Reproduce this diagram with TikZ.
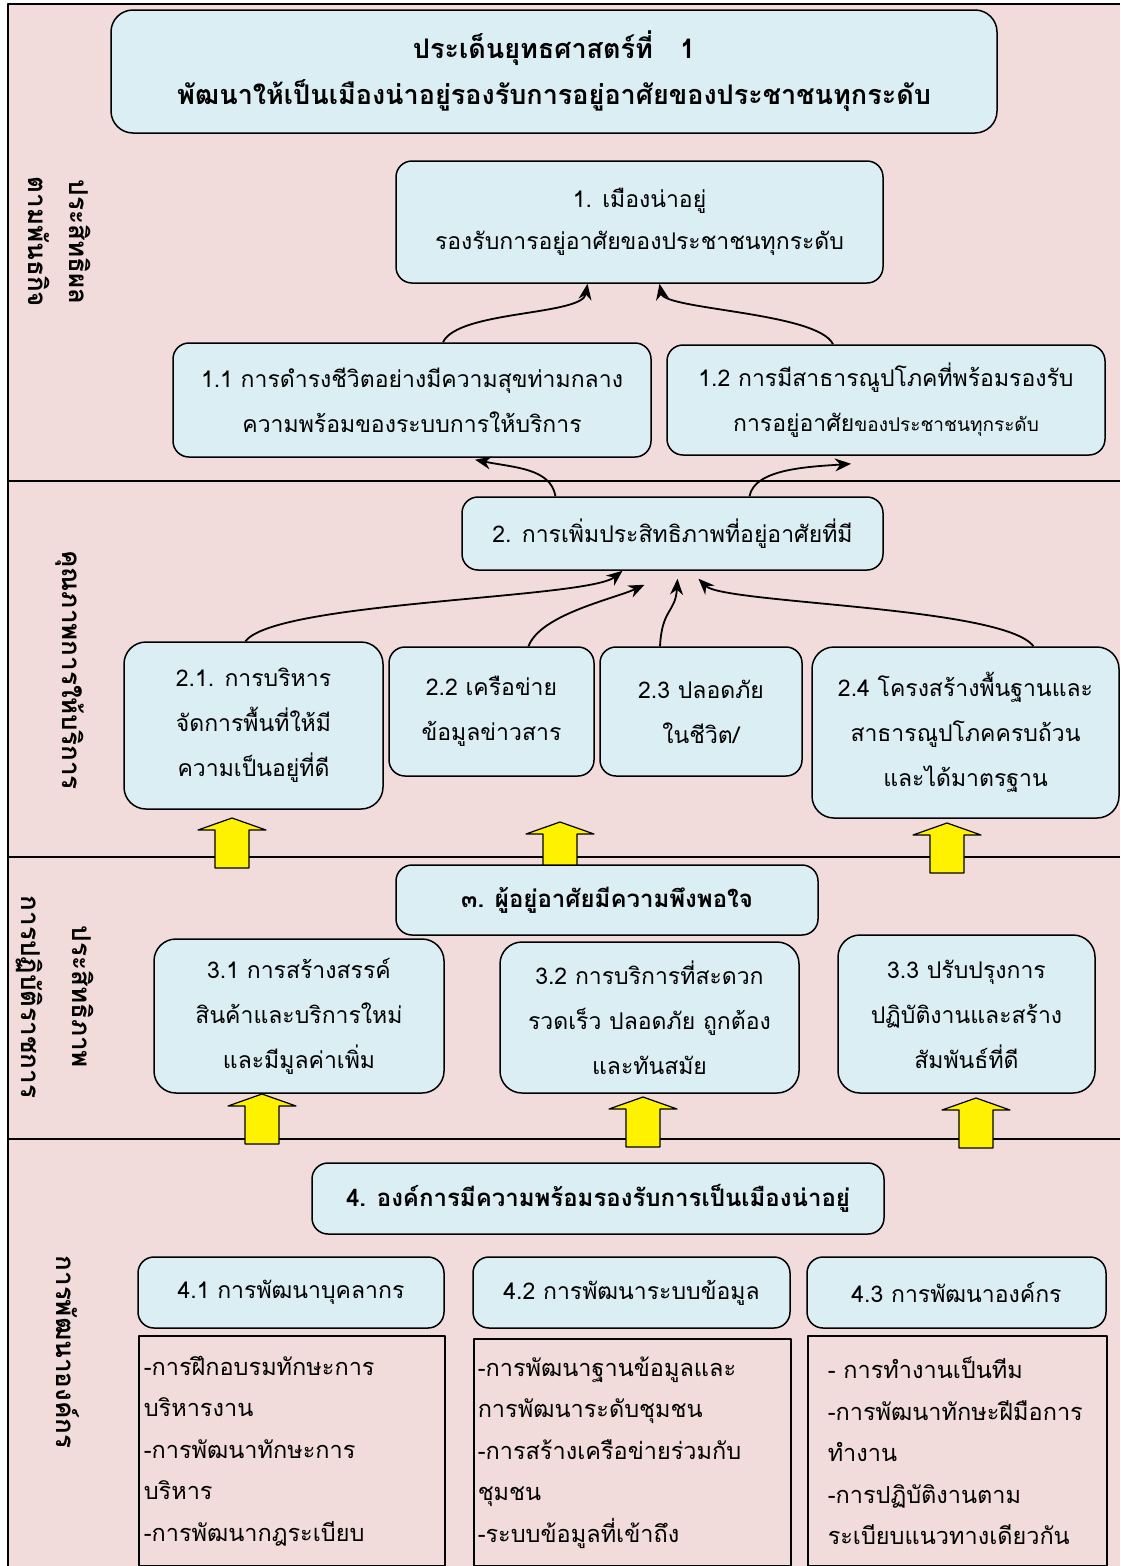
\documentclass[tikz,border=0pt]{standalone}
\usepackage{fontspec}
\usetikzlibrary{arrows.meta}
\setmainfont[Script=Thai]{Loma}
\definecolor{bandpink}{HTML}{F2DCDB}
\definecolor{boxblue}{HTML}{DAEEF3}
\begin{document}
\begin{tikzpicture}[x=1pt,y=-1pt,>={Stealth[length=16pt,width=13pt]},line join=round,
	box/.style={draw,line width=1.5pt,rounded corners=16pt,fill=boxblue,align=center,inner sep=0pt,font=\fontsize{23}{45}\selectfont},
	headbox/.style={box,font=\bfseries\fontsize{24}{45}\selectfont},
	listbox/.style={draw,line width=1.5pt,fill=bandpink,align=left,anchor=north west,font=\fontsize{23.5}{41.5}\selectfont},
	side/.style={rotate=-90,align=center,font=\bfseries\fontsize{26}{41}\selectfont},
	link/.style={->,line width=1.8pt},
	yarrow/.style={draw,line width=1.2pt,fill=yellow}]
		\useasboundingbox (0,0) rectangle (1120,1566);
		% bands
		\fill [bandpink] (8,4) rectangle (1120,1566);
		\draw [line width=1.6pt] (8,1566)--(8,4)--(1120,4);
		\foreach \y in {481,857,1139}{
			\draw [line width=1.6pt] (8,\y)--(1120,\y);
		}
		% side labels
		\node [side] (s1) at (60,242) {ประสิทธิผล\\ตามพันธกิจ};
		\node [side] (s2) at (70,670) {คุณภาพการให้บริการ};
		\node [side,font=\bfseries\fontsize{26}{51}\selectfont] (s3) at (55,997) {ประสิทธิภาพ\\การปฏิบัติราชการ};
		\node [side] (s4) at (68,1352) {การพัฒนาองค์กร};
		% yellow block arrows
		\foreach \cx/\ty/\by in {232/818/868,560/822/866,947/823/873,262/1094/1144,643/1097/1147,976/1098/1148}{
			\draw [yarrow] ({\cx-17},\by)--({\cx-17},{\ty+12})--({\cx-34},{\ty+12})--(\cx,\ty)
				--({\cx+34},{\ty+12})--({\cx+17},{\ty+12})--({\cx+17},\by)--cycle;
		}
		% level 1
		\node [box,rounded corners=22pt,minimum width=886pt,minimum height=123pt,font=\bfseries\fontsize{27}{46}\selectfont] (t) at (554,71.5)
			{\raisebox{-4pt}{ประเด็นยุทธศาสตร์ที่\hspace{1em}1}\\\raisebox{-4pt}{พัฒนาให้เป็นเมืองน่าอยู่รองรับการอยู่อาศัยของประชาชนทุกระดับ}};
		\node [box,minimum width=487pt,minimum height=122pt,font=\fontsize{23}{42}\selectfont] (b1) at (639.5,222)
			{1. เมืองน่าอยู่\\รองรับการอยู่อาศัยของประชาชนทุกระดับ};
		\node [box,minimum width=478pt,minimum height=114pt] (b11) at (412,400)
			{1.1 การดำรงชีวิตอย่างมีความสุขท่ามกลาง\\ความพร้อมของระบบการให้บริการ};
		\node [box,minimum width=438pt,minimum height=110pt] (b12) at (886,400)
			{1.2 การมีสาธารณูปโภคที่พร้อมรองรับ\\การอยู่อาศัย{\fontsize{19}{45}\selectfont ของประชาชนทุกระดับ}};
		% level 2
		\node [box,minimum width=421pt,minimum height=73pt] (b2) at (672.5,533.5) {2. การเพิ่มประสิทธิภาพที่อยู่อาศัยที่มี};
		\node [box,rounded corners=22pt,minimum width=259pt,minimum height=167pt] (b21) at (253.5,725.5)
			{2.1. การบริหาร\\จัดการพื้นที่ให้มี\\ความเป็นอยู่ที่ดี};
		\node [box,minimum width=205pt,minimum height=129pt] (b22) at (491.5,711.5) {2.2 เครือข่าย\\ข้อมูลข่าวสาร};
		\node [box,minimum width=202pt,minimum height=129pt] (b23) at (701,711.5) {2.3 ปลอดภัย\\ในชีวิต/};
		\node [box,rounded corners=22pt,minimum width=307pt,minimum height=171pt] (b24) at (965.5,732.5)
			{2.4 โครงสร้างพื้นฐานและ\\สาธารณูปโภคครบถ้วน\\และได้มาตรฐาน};
		% level 3
		\node [headbox,minimum width=422pt,minimum height=70pt] (b3) at (607,900) {๓. ผู้อยู่อาศัยมีความพึงพอใจ};
		\node [box,rounded corners=22pt,minimum width=290pt,minimum height=154pt] (b31) at (299,1016)
			{3.1 การสร้างสรรค์\\สินค้าและบริการใหม่\\และมีมูลค่าเพิ่ม};
		\node [box,rounded corners=22pt,minimum width=299pt,minimum height=151pt] (b32) at (649.5,1017.5)
			{3.2 การบริการที่สะดวก\\รวดเร็ว ปลอดภัย ถูกต้อง\\และทันสมัย};
		\node [box,rounded corners=22pt,minimum width=257pt,minimum height=158pt] (b33) at (966.5,1014)
			{3.3 ปรับปรุงการ\\ปฏิบัติงานและสร้าง\\สัมพันธ์ที่ดี};
		% level 4
		\node [headbox,minimum width=572pt,minimum height=71pt] (b4) at (598,1198.5) {4. องค์การมีความพร้อมรองรับการเป็นเมืองน่าอยู่};
		\node [box,minimum width=306pt,minimum height=71pt] (b41) at (291,1292.5) {4.1 การพัฒนาบุคลากร};
		\node [box,minimum width=317pt,minimum height=71pt] (b42) at (631.5,1292.5) {4.2 การพัฒนาระบบข้อมูล};
		\node [box,minimum width=299pt,minimum height=71pt] (b43) at (956.5,1292.5) {4.3 การพัฒนาองค์กร};
		\node [listbox,inner xsep=5pt,text width=296pt,minimum height=230pt] (l1) at (138,1335)
			{-การฝึกอบรมทักษะการ\\บริหารงาน\\-การพัฒนาทักษะการ\\บริหาร\\-การพัฒนากฎระเบียบ};
		\node [listbox,inner xsep=4pt,text width=309pt,minimum height=227pt] (l2) at (473,1338)
			{-การพัฒนาฐานข้อมูลและ\\การพัฒนาระดับชุมชน\\-การสร้างเครือข่ายร่วมกับ\\ชุมชน\\-ระบบข้อมูลที่เข้าถึง};
		\node [listbox,inner xsep=20pt,text width=259pt,minimum height=230pt] (l3) at (807,1335)
			{- การทำงานเป็นทีม\\-การพัฒนาทักษะฝีมือการ\\ทำงาน\\-การปฏิบัติงานตาม\\ระเบียบแนวทางเดียวกัน};
		% links
		\draw [link] ([xshift=31pt]b11.north) .. controls +(15,-32) and +(-5,32) .. ([xshift=-52pt]b1.south);
		\draw [link] ([xshift=-53pt]b12.north) .. controls +(-15,-32) and +(5,26) .. ([xshift=20pt]b1.south);
		\draw [link] ([xshift=-117pt]b2.north) .. controls +(-5,-28) and +(40,8) .. ([xshift=63pt,yshift=-2pt]b11.south);
		\draw [link] ([xshift=77pt]b2.north) .. controls +(5,-28) and +(-40,3) .. ([xshift=-35pt,yshift=-8pt]b12.south);
		\draw [link] ([xshift=-8pt]b21.north) .. controls +(30,-40) and +(-35,28) .. ([xshift=-50pt]b2.south);
		\draw [link] ([xshift=37pt]b22.north) .. controls +(12,-32) and +(-30,14) .. ([xshift=-28pt,yshift=-14pt]b2.south);
		\draw [link] ([xshift=-41pt]b23.north) .. controls +(2,-38) and +(-2,34) .. ([xshift=5pt,yshift=-8pt]b2.south);
		\draw [link] ([xshift=68pt]b24.north) .. controls +(-30,-40) and +(25,25) .. ([xshift=26pt,yshift=-8pt]b2.south);
	\end{tikzpicture}
\end{document}
